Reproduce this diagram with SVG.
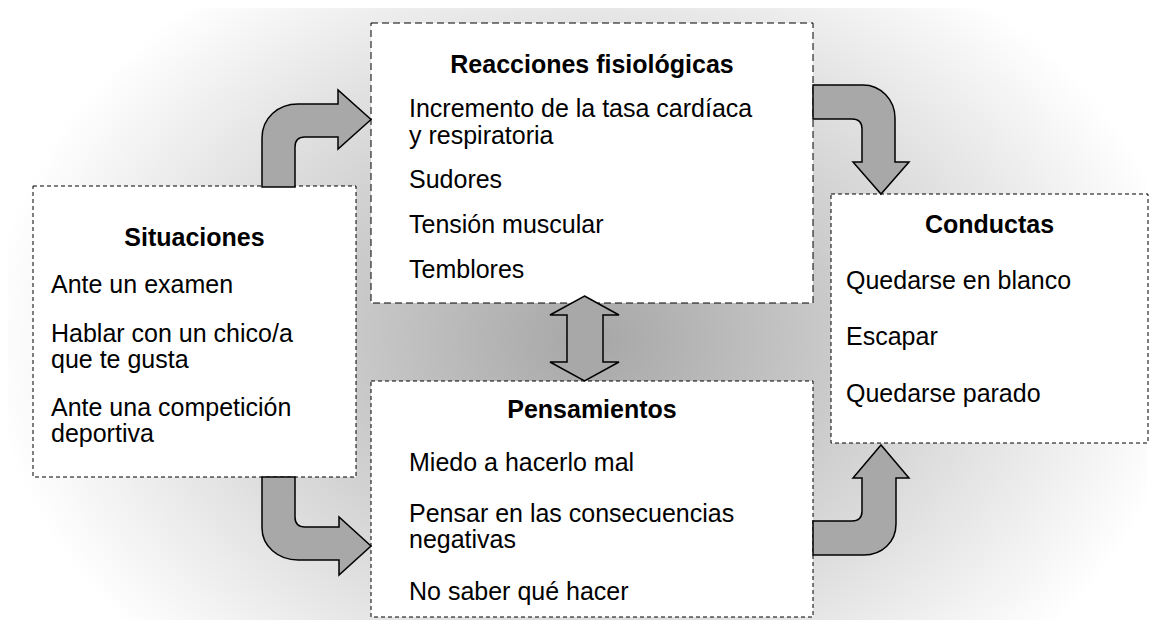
<svg xmlns="http://www.w3.org/2000/svg" width="1155" height="627" viewBox="0 0 1155 627">
  <defs>
    <radialGradient id="bg" gradientUnits="userSpaceOnUse" cx="590" cy="340" r="600" gradientTransform="translate(590 340) scale(1 0.75) translate(-590 -340)">
      <stop offset="0" stop-color="#a6a6a6"/>
      <stop offset="0.5" stop-color="#d2d2d2"/>
      <stop offset="1" stop-color="#ffffff"/>
    </radialGradient>
  </defs>
  <style>
    .box { fill: #ffffff; stroke: #000000; stroke-width: 1; stroke-dasharray: 4 3; }
    .box.big { stroke-dasharray: 7 4; }
    .title { font-family: "Liberation Sans", Arial, sans-serif; font-size: 25px; font-weight: bold; fill: #000; text-anchor: middle; }
    .item { font-family: "Liberation Sans", Arial, sans-serif; font-size: 25px; fill: #000; }
    .arrow { fill: #a8a8a8; stroke: #000000; stroke-width: 1.5; stroke-linejoin: miter; }
  </style>

  <rect x="8" y="8" width="1139" height="612" rx="32" ry="32" fill="url(#bg)"/>

  <g id="node-reacciones">
    <rect class="box big" x="371" y="23" width="442" height="280"/>
    <text class="title" x="592" y="73">Reacciones fisiológicas</text>
    <text class="item" x="409" y="117">Incremento de la tasa cardíaca</text>
    <text class="item" x="409" y="144">y respiratoria</text>
    <text class="item" x="409" y="188">Sudores</text>
    <text class="item" x="409" y="233">Tensión muscular</text>
    <text class="item" x="409" y="278">Temblores</text>
  </g>

  <g id="node-situaciones">
    <rect class="box" x="33" y="186" width="323" height="291"/>
    <text class="title" x="194.5" y="246">Situaciones</text>
    <text class="item" x="51" y="293">Ante un examen</text>
    <text class="item" x="51" y="342">Hablar con un chico/a</text>
    <text class="item" x="51" y="368">que te gusta</text>
    <text class="item" x="51" y="416">Ante una competición</text>
    <text class="item" x="51" y="442">deportiva</text>
  </g>

  <g id="node-conductas">
    <rect class="box" x="831" y="194" width="317" height="249"/>
    <text class="title" x="989.5" y="233">Conductas</text>
    <text class="item" x="846" y="289">Quedarse en blanco</text>
    <text class="item" x="846" y="345">Escapar</text>
    <text class="item" x="846" y="402">Quedarse parado</text>
  </g>

  <g id="node-pensamientos">
    <rect class="box" x="371" y="381" width="442" height="236"/>
    <text class="title" x="592" y="418">Pensamientos</text>
    <text class="item" x="409" y="471">Miedo a hacerlo mal</text>
    <text class="item" x="409" y="522">Pensar en las consecuencias</text>
    <text class="item" x="409" y="548">negativas</text>
    <text class="item" x="409" y="600">No saber qué hacer</text>
  </g>

  <g id="connectors">
    <path id="arrow-situaciones-reacciones" class="arrow" d="M262,187 L262,138 C262,118 278,104 298,104 L338,104 L338,90 L371,119.5 L338,149 L338,137 L305,137 Q295,137 295,147 L295,187 Z"/>
    <path id="arrow-reacciones-conductas" class="arrow" d="M813,85 L863,85 C881,85 895,100 895,118 L895,162 L909,162 L881,194 L853,162 L862,162 L862,129 Q862,119 852,119 L813,119 Z"/>
    <path id="arrow-reacciones-pensamientos" class="arrow" d="M584.5,296 L619,315 L603,315 L603,362 L619,362 L584.5,381 L550,362 L567,362 L567,315 L550,315 Z"/>
    <path id="arrow-situaciones-pensamientos" class="arrow" d="M262,477 L295,477 L295,517 Q295,527 305,527 L339,527 L339,517 L371,546 L339,575 L339,560 L298,560 C278,560 262,546 262,528 Z"/>
    <path id="arrow-pensamientos-conductas" class="arrow" d="M813,521 L852,521 Q862,521 862,511 L862,478 L853,478 L881,445 L909,478 L896,478 L896,524 C896,542 882,555 864,555 L813,555 Z"/>
  </g>
</svg>
